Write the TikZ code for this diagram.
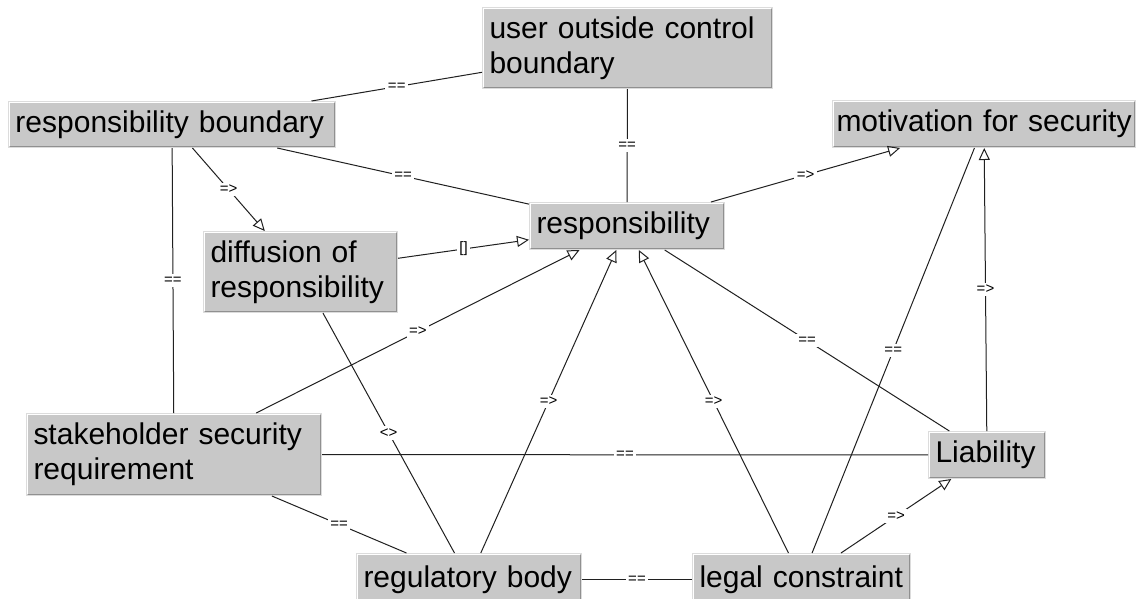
\documentclass[tikz,border=0pt]{standalone}
\usepackage{fontspec}
\setmainfont{Liberation Sans}
\usetikzlibrary{arrows.meta}
\definecolor{boxfill}{HTML}{C8C8C8}
\definecolor{boxline}{HTML}{DCDCDC}
\definecolor{boxshade}{HTML}{909090}
\definecolor{edgecol}{HTML}{202020}
\newcommand{\boxfont}{\fontsize{30}{35}\selectfont\hyphenpenalty=10000\relax\exhyphenpenalty=10000\relax}
\tikzset{
 cbox/.style={draw=boxline, fill=boxfill, line width=1pt, anchor=north west, inner xsep=7pt, inner ysep=0pt, align=left, font=\boxfont},
 shade/.style={draw=boxshade, line width=1.2pt},
 hilite/.style={draw=white, line width=1.2pt},
 lbl/.style={fill=white, inner sep=2.5pt, font=\fontsize{15}{15}\selectfont, text=black},
 conn/.style={draw=edgecol, line width=1pt},
 arr/.style={conn, -{Triangle[open, length=12pt, width=11pt, line width=1pt]}},
}
\begin{document}
\begin{tikzpicture}[x=1pt,y=-1pt]
\useasboundingbox (0,0) rectangle (1136,598);
\fill[white] (0,0) rectangle (1136,598);
\node[cbox, text width=276pt, minimum height=81pt] (uocb) at (482,7) {user outside control\\boundary};
\node[cbox, text width=313pt, minimum height=46pt] (rb) at (8,101) {\mbox{responsibility boundary}};
\node[cbox, inner xsep=4pt, text width=295pt, minimum height=47pt] (mfs) at (832,100) {\mbox{motivation for security}};
\node[cbox, text width=181pt, minimum height=47pt] (resp) at (529,202) {responsibility};
\node[cbox, text width=180pt, minimum height=81pt] (dor) at (203,231) {diffusion of\\responsibility};
\node[cbox, text width=281pt, minimum height=82pt] (ssr) at (26,413) {stakeholder security\\requirement};
\node[cbox, text width=103pt, minimum height=47pt] (liab) at (928,431) {Liability};
\node[cbox, text width=211pt, minimum height=52pt] (reg) at (356,553) {\mbox{regulatory body}};
\node[cbox, text width=204pt, minimum height=52pt] (legal) at (692,553) {\mbox{legal constraint}};

\foreach \n in {uocb,rb,mfs,resp,dor,ssr,liab,reg,legal}{
  \draw[hilite] ([shift={(1.6,-1.6)}]\n.south west) -- ([shift={(1.6,1.6)}]\n.north west) -- ([shift={(-1.6,1.6)}]\n.north east);
  \draw[shade] ([shift={(1.6,-1.6)}]\n.south west) -- ([shift={(-1.6,-1.6)}]\n.south east) -- ([shift={(-1.6,1.6)}]\n.north east);
}

\draw[conn] (rb) -- node[lbl]{==} (uocb);
\draw[conn] (uocb) -- node[lbl]{==} (resp);
\draw[conn] (rb) -- node[lbl]{==} (resp);
\draw[arr] (rb) -- node[lbl]{=>} (dor);
\draw[conn] (rb) -- node[lbl]{==} (ssr);
\draw[arr] (dor) -- node[lbl]{[]} (resp);
\draw[arr] (resp) -- node[lbl]{=>} (mfs);
\draw[arr] (ssr) -- node[lbl]{=>} (resp);
\draw[arr] (reg) -- node[lbl]{=>} (resp);
\draw[arr] (legal) -- node[lbl]{=>} (resp);
\draw[conn] (liab) -- node[lbl]{==} (resp);
\draw[conn] (legal) -- node[lbl]{==} (mfs);
\draw[arr] (liab) -- node[lbl]{=>} (mfs);
\draw[conn] (ssr) -- node[lbl]{==} (liab);
\draw[conn] (dor) -- node[lbl]{<>} (reg);
\draw[conn] (ssr) -- node[lbl]{==} (reg);
\draw[conn] (reg) -- node[lbl]{==} (legal);
\draw[arr] (legal) -- node[lbl]{=>} (liab);
\end{tikzpicture}
\end{document}
